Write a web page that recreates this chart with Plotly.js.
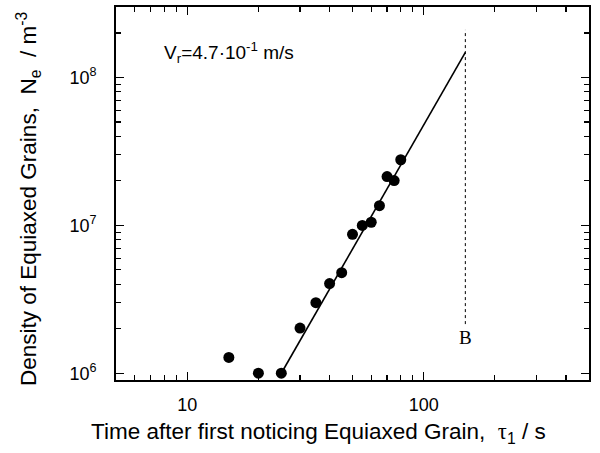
<!DOCTYPE html>
<html>
<head>
<meta charset="utf-8">
<script src="https://cdn.plot.ly/plotly-3.0.1.min.js"></script>
<style>html,body{margin:0;padding:0;background:#fff;}#chart{width:600px;height:453px;}</style>
</head>
<body>
<div id="chart"></div>
<script>
// Measured points: time after first noticing equiaxed grain (s) vs density (m^-3)
const tau = [15, 20, 25, 30, 35, 40, 45, 50, 55, 60, 65, 70, 75, 80];
const Ne  = [1.28e6, 1.0e6, 1.0e6, 2.02e6, 3.0e6, 4.04e6, 4.79e6, 8.7e6, 1.0e7, 1.05e7, 1.36e7, 2.14e7, 2.01e7, 2.78e7];
// Fitted straight line (log-log)
const fitTau = [25, 150];
const fitNe  = [1.0e6, 1.48e8];
// Dashed marker line at point B
const bTau = [150, 150];
const bNe  = [2.15e6, 2.1e8];
const bLabelTau = 150, bLabelNe = 1.75e6;
// Annotation text position
const vrTau = 7.8, vrNe = 1.47e8;

const xMajor = [10, 100];
const xMajorText = ['10', '100'];
const xMinor = [6,7,8,9,20,30,40,50,60,70,80,90,200,300,400];
const yMajor = [1e6, 1e7, 1e8];
const yMajorText = ['10<sup>6</sup>', '10<sup>7</sup>', '10<sup>8</sup>'];
const yMinor = [2e6,3e6,4e6,5e6,6e6,7e6,8e6,9e6,2e7,3e7,4e7,5e7,6e7,7e7,8e7,9e7,2e8];

const xTitle = 'Time after first noticing Equiaxed Grain,  <span style="font-family:Liberation Serif, Times New Roman, serif">τ</span><sub>1</sub> / s';
const yTitle = 'Density of Equiaxed Grains,  N<sub>e</sub>  / m<sup>-3</sup>';

const FONT = 'Liberation Sans, Arial, sans-serif';

const traces = [
  {x: fitTau, y: fitNe, mode: 'lines', line: {color: '#000', width: 1.6}, hoverinfo: 'skip'},
  {x: bTau, y: bNe, mode: 'lines', line: {color: '#000', width: 1, dash: '3px,3px'}, hoverinfo: 'skip'},
  {x: tau, y: Ne, mode: 'markers', marker: {color: '#000', size: 11, line: {width: 0}}}
];

const axisCommon = {
  type: 'log', showline: true, linecolor: '#000', linewidth: 1.8, mirror: 'ticks',
  ticks: 'inside', ticklen: 8, tickwidth: 1.2, tickcolor: '#000',
  showgrid: false, zeroline: false, tickmode: 'array',
  tickfont: {family: FONT, size: 18, color: '#000'}
};

const layout = {
  width: 600, height: 453,
  margin: {l: 116, r: 11, t: 7, b: 73},
  paper_bgcolor: '#fff', plot_bgcolor: '#fff',
  showlegend: false,
  xaxis: Object.assign({}, axisCommon, {
    range: [Math.log10(5), Math.log10(500)],
    tickvals: xMajor, ticktext: xMajorText,
    ticklabelstandoff: 8,
    minor: {tickmode: 'array', tickvals: xMinor, ticks: 'inside', ticklen: 5, tickwidth: 1.2, tickcolor: '#000', showgrid: false}
  }),
  yaxis: Object.assign({}, axisCommon, {
    range: [Math.log10(9e5), Math.log10(3e8)],
    tickvals: yMajor, ticktext: yMajorText,
    ticklabelstandoff: 14,
    minor: {tickmode: 'array', tickvals: yMinor, ticks: 'inside', ticklen: 5, tickwidth: 1.2, tickcolor: '#000', showgrid: false}
  }),
  annotations: [
    {x: Math.log10(vrTau), y: Math.log10(vrNe), xref: 'x', yref: 'y', xanchor: 'left', yanchor: 'middle',
     text: 'V<sub>r</sub>=4.7·10<sup>-1</sup> m/s', showarrow: false,
     font: {family: FONT, size: 19, color: '#000'}},
    {x: Math.log10(bLabelTau), y: Math.log10(bLabelNe), xref: 'x', yref: 'y', xanchor: 'center', yanchor: 'middle',
     text: 'B', showarrow: false,
     font: {family: 'Liberation Serif, Times New Roman, serif', size: 19, color: '#000'}},
    {x: (318 - 116) / 473, y: (380 - 433) / 373, xref: 'paper', yref: 'paper', xanchor: 'center', yanchor: 'middle',
     text: xTitle, showarrow: false, font: {family: FONT, size: 22.5, color: '#000'}},
    {x: (28 - 116) / 473, y: (380 - 199) / 373, xref: 'paper', yref: 'paper', xanchor: 'center', yanchor: 'middle',
     textangle: -90, text: yTitle, showarrow: false, font: {family: FONT, size: 22.5, color: '#000'}}
  ]
};

Plotly.newPlot('chart', traces, layout, {staticPlot: true, displayModeBar: false});
</script>
</body>
</html>
